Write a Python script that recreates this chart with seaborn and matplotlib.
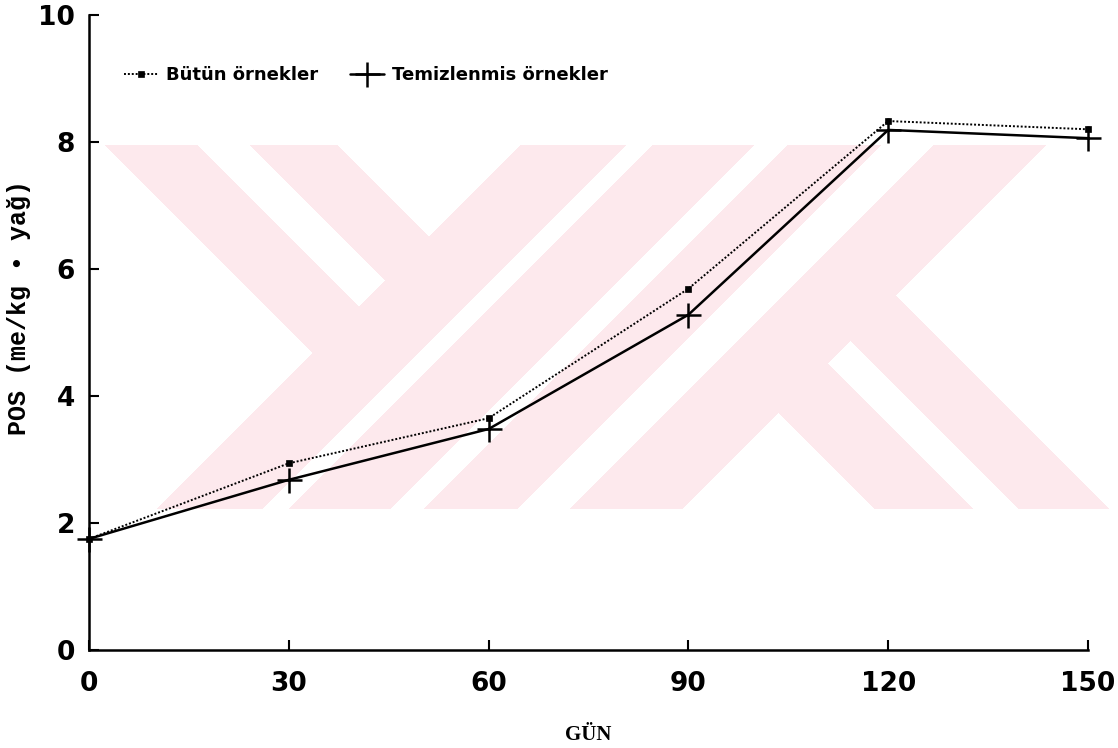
import numpy as np
import pandas as pd
import matplotlib
matplotlib.use("Agg")
import matplotlib.pyplot as plt
import seaborn as sns

# ---- data ----
gun = [0, 30, 60, 90, 120, 150]
butun = [1.75, 2.94, 3.65, 5.69, 8.33, 8.20]
temiz = [1.75, 2.68, 3.48, 5.28, 8.19, 8.06]
x_ticks = [0, 30, 60, 90, 120, 150]
y_ticks = [0, 2, 4, 6, 8, 10]
series_labels = ["Bütün örnekler", "Temizlenmis örnekler"]
x_label = "GÜN"
y_label = "POS (me/kg \u2022 yağ)"

sns.set_theme(style="ticks")
plt.rcParams['font.family'] = ['DejaVu Sans']

W, H = 1118, 748
fig = plt.figure(figsize=(W / 100, H / 100), dpi=100)
fig.patch.set_facecolor("white")

# ---- background watermark (decorative) ----
yy, xx = np.mgrid[0:H, 0:W]
s = xx + yy
d = xx - yy
band = (yy >= 145) & (yy <= 508)
p1 = (s <= 665) & (d >= -40) & (d <= 192) & ~((d > 52) & (d < 105))
stripes = ((s >= 665) & (s <= 770)) | ((s >= 797) & (s <= 898)) | \
          ((s >= 932) & (s <= 1025)) | ((s >= 1078) & (s <= 1190))
kleg = (s > 1190) & (((d >= 366) & (d <= 464)) | ((d >= 510) & (d <= 600)))
mask = band & (p1 | stripes | kleg) & (xx >= 92)
img = np.ones((H, W, 4), dtype=float)
img[..., 3] = 0.0
img[mask] = [253 / 255, 233 / 255, 237 / 255, 1.0]
fig.figimage(img, 0, 0, origin="upper", zorder=0)

ax = fig.add_axes([89 / W, (H - 650) / H, (1088 - 89) / W, (650 - 15) / H])
ax.set_zorder(2)
ax.patch.set_alpha(0)

df = pd.DataFrame({"gun": gun, "butun": butun, "temiz": temiz})
sns.lineplot(data=df, x="gun", y="butun", ax=ax, color="black",
             linestyle=(0, (1, 1)), linewidth=1.4, marker="s", markersize=5,
             markeredgewidth=0.5, markeredgecolor="black", markerfacecolor="black",
             label=series_labels[0], clip_on=False)
sns.lineplot(data=df, x="gun", y="temiz", ax=ax, color="black",
             linestyle="-", linewidth=1.8, marker="+", markersize=18,
             markeredgewidth=1.8, markeredgecolor="black",
             label=series_labels[1], clip_on=False)

ax.set_xlim(0, 150)
ax.set_ylim(0, 10)
ax.set_xticks(x_ticks)
ax.set_yticks(y_ticks)
ax.set_xticklabels([str(v) for v in x_ticks], fontsize=19, fontweight="bold")
ax.set_yticklabels([str(v) for v in y_ticks], fontsize=19, fontweight="bold")
ax.tick_params(axis="both", direction="in", length=7, width=1.5, color="black",
               labelcolor="black")
ax.tick_params(axis="x", pad=15)
ax.tick_params(axis="y", pad=10)
sns.despine(ax=ax)
for sp in ["left", "bottom"]:
    ax.spines[sp].set_linewidth(1.8)
    ax.spines[sp].set_color("black")

ax.set_xlabel(x_label, fontsize=15, fontweight="bold", family="Liberation Serif",
              labelpad=20, color="black")
ax.set_ylabel(y_label, fontsize=18, fontweight="bold", family="Liberation Mono",
              color="black")
ax.yaxis.set_label_coords(-0.058, 0.54)

leg = ax.legend(loc="center left", bbox_to_anchor=(35 / 999, 0.905), ncol=2,
                frameon=False, borderpad=0, borderaxespad=0,
                handlelength=1.9, handletextpad=0.4, columnspacing=1.8,
                prop={"weight": "bold", "size": 13})
for t in leg.get_texts():
    t.set_color("black")

fig.savefig("out.png", dpi=100)
